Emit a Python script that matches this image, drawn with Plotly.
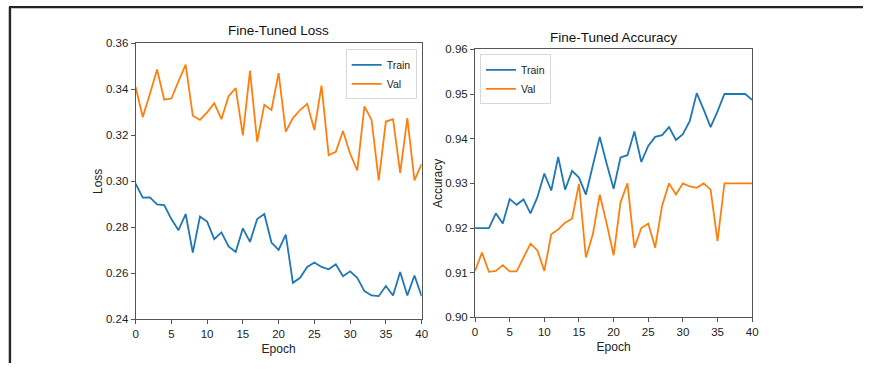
import plotly.graph_objects as go

# ---- data -------------------------------------------------------------
epochs = list(range(41))

train_loss = [0.299, 0.2929, 0.293, 0.290, 0.2897, 0.2836, 0.2788, 0.2858, 0.269, 0.2847,
              0.2825, 0.2749, 0.2778, 0.2717, 0.2693, 0.2796, 0.2737, 0.2836, 0.2858, 0.2734,
              0.2702, 0.2769, 0.2559, 0.2581, 0.2628, 0.2647, 0.2628, 0.2618, 0.264, 0.2588,
              0.2609, 0.2581, 0.2523, 0.2504, 0.2501, 0.2545, 0.2504, 0.2606, 0.2504, 0.2591,
              0.2501]
val_loss = [0.341, 0.328, 0.338, 0.3486, 0.3355, 0.336, 0.3435, 0.3507, 0.3285, 0.3267,
            0.330, 0.334, 0.327, 0.337, 0.3405, 0.320, 0.348, 0.3172, 0.3333, 0.331,
            0.347, 0.3216, 0.3275, 0.331, 0.3337, 0.3223, 0.3416, 0.3114, 0.3128, 0.3219,
            0.312, 0.3048, 0.3326, 0.3267, 0.3004, 0.326, 0.327, 0.3037, 0.3275, 0.3004,
            0.3075]

train_acc = [0.920, 0.920, 0.920, 0.9233, 0.921, 0.9265, 0.9252, 0.9264, 0.9233, 0.9269,
             0.9322, 0.9284, 0.9359, 0.9286, 0.9328, 0.9313, 0.9275, 0.934, 0.9404, 0.9344,
             0.9288, 0.9358, 0.9363, 0.9416, 0.9348, 0.9384, 0.9404, 0.9408, 0.9426, 0.9397,
             0.941, 0.944, 0.9502, 0.9465, 0.9426, 0.9461, 0.950, 0.950, 0.950, 0.950,
             0.9487]
val_acc = [0.9104, 0.9145, 0.9102, 0.9104, 0.9117, 0.9103, 0.9103, 0.9134, 0.9165, 0.915,
           0.9104, 0.9186, 0.9197, 0.9212, 0.9221, 0.9299, 0.9134, 0.9186, 0.9275, 0.921,
           0.9139, 0.9258, 0.930, 0.9156, 0.920, 0.921, 0.9156, 0.925, 0.930, 0.9275,
           0.930, 0.9293, 0.929, 0.930, 0.9286, 0.9171, 0.930, 0.930, 0.930, 0.930,
           0.930]

x_ticks = [0, 5, 10, 15, 20, 25, 30, 35, 40]
loss_ticks = [0.24, 0.26, 0.28, 0.30, 0.32, 0.34, 0.36]
acc_ticks = [0.90, 0.91, 0.92, 0.93, 0.94, 0.95, 0.96]

# ---- styling ----------------------------------------------------------
W, H = 869, 369
FONT = "Liberation Sans Narrow, Liberation Sans, Arial, sans-serif"
BLUE, ORANGE = "#1f77b4", "#ff7f0e"
SPINE = "#555555"

# vertical placement: the page's top offset and height scale
Y_OFF, Y_SCALE = 7.0, 0.96


def px_x(p):
    return p / W


def px_y(p):
    return 1 - ((p - Y_OFF) / Y_SCALE) / H


fig = go.Figure()

fig.add_trace(go.Scatter(x=epochs, y=train_loss, mode="lines", name="Train",
                         line=dict(color=BLUE, width=1.8), xaxis="x", yaxis="y",
                         legend="legend"))
fig.add_trace(go.Scatter(x=epochs, y=val_loss, mode="lines", name="Val",
                         line=dict(color=ORANGE, width=1.8), xaxis="x", yaxis="y",
                         legend="legend"))
fig.add_trace(go.Scatter(x=epochs, y=train_acc, mode="lines", name="Train",
                         line=dict(color=BLUE, width=1.8), xaxis="x2", yaxis="y2",
                         legend="legend2"))
fig.add_trace(go.Scatter(x=epochs, y=val_acc, mode="lines", name="Val",
                         line=dict(color=ORANGE, width=1.8), xaxis="x2", yaxis="y2",
                         legend="legend2"))

axis_common = dict(showline=True, mirror=True, linecolor=SPINE, linewidth=1,
                   ticks="outside", ticklen=4, tickcolor=SPINE, showgrid=False,
                   zeroline=False, tickfont=dict(family=FONT, size=11.5, color="#222"))

legend_common = dict(font=dict(family=FONT, size=10.5, color="#222"),
                     bgcolor="rgba(255,255,255,0.85)", bordercolor="#d8d8d8",
                     borderwidth=1, itemwidth=30, tracegroupgap=0)

fig.update_layout(
    width=W, height=H,
    margin=dict(l=0, r=0, t=0, b=0),
    paper_bgcolor="white", plot_bgcolor="white",
    font=dict(family=FONT, color="#222"),
    xaxis=dict(domain=[px_x(134), px_x(423)], range=[0, 40], tickvals=x_ticks,
               anchor="y", title=dict(text="Epoch", font=dict(size=12), standoff=5),
               **axis_common),
    yaxis=dict(domain=[px_y(318), px_y(44)], range=[0.24, 0.36], tickvals=loss_ticks,
               tickformat=".2f", anchor="x",
               title=dict(text="Loss", font=dict(size=12), standoff=0),
               **axis_common),
    xaxis2=dict(domain=[px_x(477), px_x(757)], range=[0, 40], tickvals=x_ticks,
                anchor="y2", title=dict(text="Epoch", font=dict(size=12), standoff=5),
                **axis_common),
    yaxis2=dict(domain=[px_y(316), px_y(50)], range=[0.90, 0.96], tickvals=acc_ticks,
                tickformat=".2f", anchor="x2",
                title=dict(text="Accuracy", font=dict(size=12), standoff=0),
                **axis_common),
    legend=dict(x=px_x(418), y=px_y(50), xanchor="right", yanchor="top", **legend_common),
    legend2=dict(x=px_x(482), y=px_y(55), xanchor="left", yanchor="top", **legend_common),
    annotations=[
        dict(text="Fine-Tuned Loss", x=px_x(278.5), y=px_y(31), xref="paper", yref="paper",
             showarrow=False, xanchor="center", yanchor="middle",
             font=dict(family=FONT, size=13.5, color="#111")),
        dict(text="Fine-Tuned Accuracy", x=px_x(617), y=px_y(38), xref="paper", yref="paper",
             showarrow=False, xanchor="center", yanchor="middle",
             font=dict(family=FONT, size=13.5, color="#111")),
    ],
    shapes=[
        # outer frame: top rule and left rule
        dict(type="line", xref="paper", yref="paper", x0=px_x(6), x1=1.0,
             y0=1 - 1.2 / H, y1=1 - 1.2 / H, line=dict(color="#262626", width=2.4)),
        dict(type="line", xref="paper", yref="paper", x0=px_x(7), x1=px_x(7),
             y0=0, y1=1 - 1.2 / H, line=dict(color="#262626", width=2.4)),
    ],
)

fig.write_html("out.html")
